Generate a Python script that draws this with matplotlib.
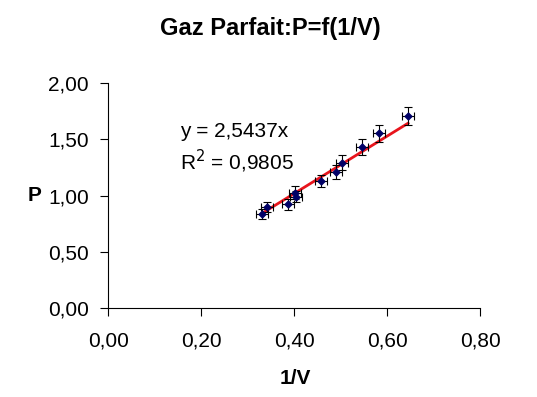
import matplotlib
matplotlib.use("Agg")
import matplotlib.pyplot as plt
from matplotlib.ticker import FuncFormatter

plt.rcParams['font.family'] = ['Liberation Sans', 'DejaVu Sans']

# data
inv_v = [0.330, 0.342, 0.386, 0.403, 0.401, 0.457, 0.490, 0.502, 0.545, 0.582, 0.645]
pres = [0.833, 0.895, 0.922, 0.990, 1.025, 1.126, 1.206, 1.291, 1.427, 1.551, 1.705]
x_err = [0.013, 0.013, 0.013, 0.013, 0.013, 0.013, 0.013, 0.013, 0.013, 0.013, 0.013]
y_err = [0.045, 0.045, 0.050, 0.050, 0.055, 0.055, 0.060, 0.065, 0.070, 0.075, 0.080]
slope = 2.5437
r2 = 0.9805

fig = plt.figure(figsize=(5.37, 3.97), dpi=100)
ax = fig.add_axes([0.2017, 0.2234, 0.6923, 0.5683])

ax.errorbar(inv_v, pres, xerr=x_err, yerr=y_err, fmt='D', color='#000066',
            markersize=3.5, ecolor='black', elinewidth=0.8, capsize=3, capthick=0.8, zorder=3)
x_fit = [min(inv_v), max(inv_v)]
ax.plot(x_fit, [slope * v for v in x_fit], color='#e8141c', linewidth=2, zorder=2)

ax.set_xlim(0, 0.8)
ax.set_ylim(0, 2.0)
ax.set_xticks([0, 0.2, 0.4, 0.6, 0.8])
ax.set_yticks([0, 0.5, 1.0, 1.5, 2.0])
comma = FuncFormatter(lambda v, p: f"{v:.2f}".replace('.', ','))
ax.xaxis.set_major_formatter(comma)
ax.yaxis.set_major_formatter(comma)
ax.spines['top'].set_visible(False)
ax.spines['right'].set_visible(False)
ax.tick_params(direction='out', length=6, width=0.8, labelsize=15, pad=8)
ax.tick_params(axis='x', pad=11)

ax.text(180, 397 - 131.7, "y = 2,5437x", transform=None, fontsize=15, va='center')
ax.text(180, 397 - 161.7, "R$^2$ = 0,9805", transform=None, fontsize=15, va='center')

fig.text(0.503, 0.929, "Gaz Parfait:P=f(1/V)", fontsize=17, fontweight='bold', ha='center', va='center')
fig.text(35 / 537, 1 - 195 / 397, "P", fontsize=15, fontweight='bold', ha='center', va='center')
fig.text(295 / 537, 1 - 378 / 397, "1/V", fontsize=15, fontweight='bold', ha='center', va='center')

fig.savefig("out.png", dpi=100)
